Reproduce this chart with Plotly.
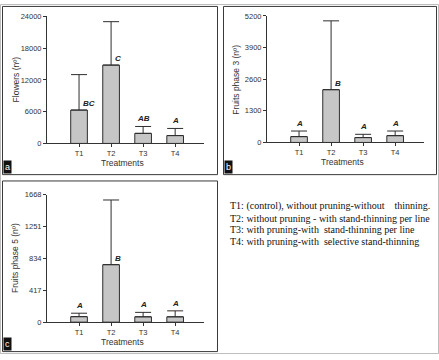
import plotly.graph_objects as go

W, H = 439, 360

treatments = ["T1", "T2", "T3", "T4"]

flowers_mean = [6300, 14800, 1900, 1480]
flowers_err = [6700, 8200, 1300, 1350]
flowers_letters = ["BC", "C", "AB", "A"]

fruits3_mean = [240, 2170, 200, 280]
fruits3_err = [230, 2830, 135, 190]
fruits3_letters = ["A", "B", "A", "A"]

fruits5_mean = [72, 753, 70, 70]
fruits5_err = [45, 847, 58, 78]
fruits5_letters = ["A", "B", "A", "A"]

flowers_ticks = [0, 6000, 12000, 18000, 24000]
fruits3_ticks = [0, 1300, 2600, 3900, 5200]
fruits5_ticks = [0, 417, 834, 1251, 1668]

legend_lines = [
    "T1: (control), without pruning-without\u00a0\u00a0\u00a0 thinning.",
    "T2: without pruning - with stand-thinning per line",
    "T3: with pruning-with\u00a0 stand-thinning per line",
    "T4: with pruning-with\u00a0 selective stand-thinning",
]

def px(x):
    return x / W

def py(y):
    return 1 - y / H

fig = go.Figure()

panels = [
    (flowers_mean, flowers_err, flowers_letters, flowers_ticks, "Flowers (nº)", "a",
     (47, 204), (12.7, 143), (2.5, 2.5, 217.5, 175)),
    (fruits3_mean, fruits3_err, fruits3_letters, fruits3_ticks, "Fruits phase 3 (nº)", "b",
     (267, 424), (12.3, 142), (223.5, 2.5, 436.5, 175)),
    (fruits5_mean, fruits5_err, fruits5_letters, fruits5_ticks, "Fruits phase 5 (nº)", "c",
     (47, 204), (195.7, 326.3), (2.5, 181.5, 217.5, 356.5)),
]

annotations = []
shapes = []
axis_font = dict(family="Liberation Sans, Arial, sans-serif", size=7.5, color="#333")
title_font = dict(family="Liberation Sans, Arial, sans-serif", size=8.5, color="#333")

for i, (means, errs, letters, ticks, ytitle, lab, xd, yd, box) in enumerate(panels, start=1):
    xa = "x" if i == 1 else f"x{i}"
    ya = "y" if i == 1 else f"y{i}"
    fig.add_trace(go.Bar(
        x=treatments, y=means, xaxis=xa, yaxis=ya, width=0.52,
        marker=dict(color="#c6c6c6", line=dict(color="#2e2e2e", width=1)),
        error_y=dict(type="data", array=errs, arrayminus=[0] * len(errs),
                     symmetric=False, color="#2e2e2e", thickness=1, width=8),
        showlegend=False, hoverinfo="skip",
    ))
    ymax = ticks[-1]
    fig.update_layout(**{
        ("xaxis" if i == 1 else f"xaxis{i}"): dict(
            domain=[px(xd[0]), px(xd[1])], anchor=ya, type="category",
            range=[-1, 3.9], showline=True, linecolor="#333", linewidth=1,
            ticks="outside", ticklen=3, tickcolor="#333", tickfont=axis_font,
            showgrid=False, zeroline=False, fixedrange=True),
        ("yaxis" if i == 1 else f"yaxis{i}"): dict(
            domain=[py(yd[1]), py(yd[0])], anchor=xa, range=[0, ymax],
            tickvals=ticks, ticktext=[str(t) for t in ticks],
            showline=True, linecolor="#333", linewidth=1,
            ticks="outside", ticklen=3, tickcolor="#333", tickfont=axis_font,
            showgrid=False, zeroline=False, fixedrange=True),
    })
    for j, (m, e, L) in enumerate(zip(means, errs, letters)):
        beside = e > 0.2 * ymax
        if beside:
            annotations.append(dict(
                x=j + 0.07, y=m, xref=xa, yref=ya, xanchor="left", yanchor="bottom",
                text=f"<b><i>{L}</i></b>", showarrow=False,
                font=dict(family="Liberation Sans, Arial, sans-serif", size=8, color="#222")))
        else:
            annotations.append(dict(
                x=j, y=m + e, xref=xa, yref=ya, xanchor="center", yanchor="bottom",
                text=f"<b><i>{L}</i></b>", showarrow=False, yshift=1,
                font=dict(family="Liberation Sans, Arial, sans-serif", size=8, color="#222")))
    annotations.append(dict(
        x=px((xd[0] + xd[1]) / 2 - 3), y=py(yd[1] + 20), xref="paper", yref="paper",
        xanchor="center", yanchor="middle", text="Treatments", showarrow=False,
        font=title_font))
    annotations.append(dict(
        x=px(box[0] + 13), y=py((yd[0] + yd[1]) / 2), xref="paper", yref="paper",
        xanchor="center", yanchor="middle", text=ytitle, textangle=-90, showarrow=False,
        font=title_font))
    annotations.append(dict(
        x=px(box[0] + 0.5), y=py(box[3] - 0.5), xref="paper", yref="paper",
        xanchor="left", yanchor="bottom", text=lab, showarrow=False,
        bgcolor="#111", borderpad=1,
        font=dict(family="Liberation Sans, Arial, sans-serif", size=9, color="white")))
    shapes.append(dict(type="rect", xref="paper", yref="paper",
                       x0=px(box[0]), x1=px(box[2]), y0=py(box[3]), y1=py(box[1]),
                       line=dict(color="#3a3a3a", width=1), layer="below"))

shapes.append(dict(type="rect", xref="paper", yref="paper",
                   x0=px(0.5), x1=px(438.5), y0=py(358.5), y1=py(0.5),
                   line=dict(color="#bdbdbd", width=1), layer="below"))

for k, line in enumerate(legend_lines):
    annotations.append(dict(
        x=px(228), y=py(207.5 + k * 12), xref="paper", yref="paper",
        xanchor="left", yanchor="middle", text=line, showarrow=False,
        font=dict(family="Liberation Serif, Times New Roman, serif", size=10, color="#111")))

fig.update_layout(
    width=W, height=H, margin=dict(l=0, r=0, t=0, b=0),
    paper_bgcolor="white", plot_bgcolor="rgba(0,0,0,0)",
    annotations=annotations, shapes=shapes,
)

fig.write_html("out.html", config={"displayModeBar": False},
               post_script="document.body.style.margin='0';document.body.style.overflow='hidden';")
